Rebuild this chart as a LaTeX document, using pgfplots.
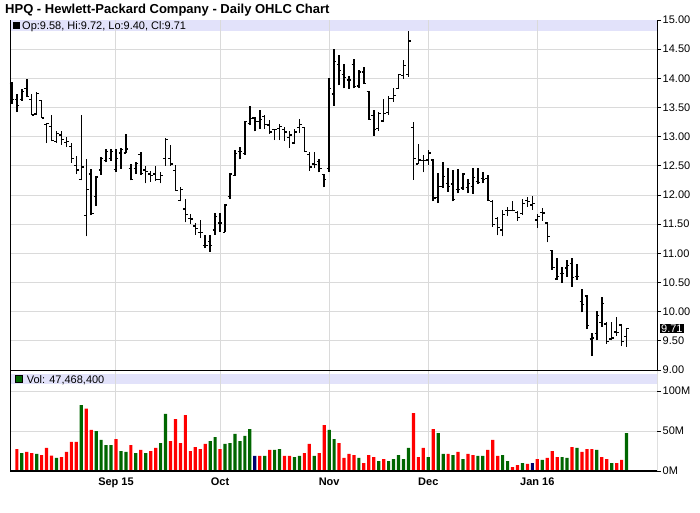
\documentclass[border=0pt]{standalone}
\usepackage{pgfplots}
\pgfplotsset{compat=1.18}
\usepackage{pgfplotstable}
\usepackage{fontspec}
\setmainfont{Liberation Sans}
\definecolor{band}{RGB}{226,226,250}
\definecolor{gridc}{RGB}{218,218,218}
\definecolor{vred}{RGB}{255,0,0}
\definecolor{vgreen}{RGB}{0,102,0}
\definecolor{vnavy}{RGB}{0,0,110}
\pgfdeclareplotmark{otick}{\pgfpathmoveto{\pgfpoint{-2.3pt}{0pt}}\pgfpathlineto{\pgfpoint{0pt}{0pt}}\pgfusepathqstroke}
\pgfdeclareplotmark{ctick}{\pgfpathmoveto{\pgfpoint{0pt}{0pt}}\pgfpathlineto{\pgfpoint{2.3pt}{0pt}}\pgfusepathqstroke}
\pgfplotstableread{
i O H L C
0 13.91 13.93 13.56 13.64
1 13.64 13.73 13.42 13.53
2 13.64 13.81 13.62 13.77
3 13.82 13.99 13.68 13.69
4 13.64 13.73 13.37 13.37
5 13.39 13.76 13.39 13.74
6 13.62 13.63 13.32 13.32
7 13.21 13.23 12.89 13.23
8 13.17 13.37 12.92 12.93
9 12.92 13.10 12.90 13.06
10 13.03 13.09 12.86 12.95
11 12.90 13.00 12.82 12.92
12 12.83 12.89 12.55 12.62
13 12.50 12.67 12.36 12.43
14 12.26 13.37 12.25 12.48
15 11.65 12.62 11.29 12.09
16 12.36 12.45 11.65 11.68
17 11.98 12.32 11.81 12.31
18 12.43 12.65 12.35 12.63
19 12.59 12.79 12.56 12.75
20 12.63 12.79 12.59 12.75
21 12.44 12.79 12.40 12.63
22 12.72 12.80 12.45 12.78
23 12.72 13.05 12.72 12.79
24 12.46 12.53 12.25 12.27
25 12.46 12.56 12.36 12.54
26 12.69 12.74 12.34 12.37
27 12.43 12.50 12.20 12.40
28 12.36 12.41 12.23 12.34
29 12.36 12.50 12.24 12.27
30 12.26 12.40 12.20 12.33
31 12.62 12.97 12.50 12.95
32 12.63 12.86 12.50 12.53
33 12.42 12.51 12.08 12.08
34 11.90 12.13 11.89 12.10
35 11.76 11.94 11.53 11.66
36 11.60 11.68 11.51 11.59
37 11.47 11.52 11.32 11.43
38 11.36 11.57 11.26 11.36
39 11.13 11.32 11.09 11.14
40 11.20 11.32 11.03 11.13
41 11.40 11.69 11.32 11.63
42 11.52 11.69 11.37 11.52
43 11.36 11.84 11.36 11.83
44 11.97 12.38 11.93 12.36
45 12.33 12.78 12.33 12.71
46 12.74 12.83 12.61 12.74
47 12.71 13.27 12.69 13.26
48 13.23 13.52 13.20 13.31
49 13.32 13.34 13.09 13.26
50 13.26 13.46 13.14 13.29
51 13.34 13.38 13.14 13.21
52 13.20 13.29 13.05 13.08
53 13.12 13.14 12.94 13.12
54 13.14 13.22 12.94 13.17
55 13.12 13.17 12.93 13.08
56 12.99 13.09 12.81 13.03
57 12.89 13.14 12.88 13.08
58 13.16 13.30 13.06 13.21
59 13.16 13.17 12.74 12.75
60 12.69 12.73 12.42 12.48
61 12.53 12.73 12.46 12.52
62 12.57 12.61 12.39 12.46
63 12.35 12.36 12.13 12.26
64 12.46 14.00 12.40 13.83
65 13.73 14.50 13.53 14.29
66 14.24 14.40 13.88 14.14
67 14.06 14.24 13.83 14.02
68 13.97 14.04 13.82 13.97
69 14.24 14.34 13.83 13.86
70 13.87 14.14 13.83 14.11
71 14.11 14.20 13.90 13.91
72 13.78 13.79 13.29 13.29
73 13.36 13.46 13.02 13.12
74 13.14 13.42 13.10 13.40
75 13.27 13.65 13.25 13.40
76 13.42 13.70 13.38 13.65
77 13.66 13.83 13.60 13.70
78 13.83 14.08 13.83 14.06
79 14.05 14.32 13.99 14.22
80 14.06 14.81 14.03 14.64
81 13.16 13.26 12.26 12.63
82 12.53 12.88 12.53 12.60
83 12.59 12.69 12.39 12.59
84 12.60 12.77 12.52 12.72
85 12.60 12.62 11.89 11.95
86 11.96 12.37 11.86 12.15
87 12.15 12.57 12.12 12.32
88 12.20 12.46 12.06 12.15
89 12.19 12.43 11.89 11.92
90 12.10 12.44 12.03 12.10
91 12.12 12.37 12.09 12.36
92 12.13 12.28 12.03 12.20
93 12.15 12.46 12.02 12.30
94 12.23 12.46 12.19 12.22
95 12.28 12.39 12.20 12.26
96 12.28 12.35 11.90 11.90
97 11.89 11.92 11.46 11.50
98 11.60 11.62 11.31 11.44
99 11.40 11.75 11.29 11.66
100 11.74 11.79 11.64 11.73
101 11.73 11.90 11.72 11.74
102 11.70 11.72 11.56 11.62
103 11.68 11.93 11.66 11.85
104 11.91 11.97 11.80 11.89
105 11.83 11.98 11.75 11.85
106 11.57 11.67 11.44 11.63
107 11.70 11.77 11.56 11.69
108 11.52 11.53 11.19 11.29
109 11.05 11.06 10.72 10.76
110 10.56 10.92 10.55 10.60
111 10.66 10.76 10.49 10.65
112 10.75 10.89 10.60 10.79
113 10.83 10.92 10.43 10.58
114 10.60 10.82 10.55 10.60
115 10.18 10.39 9.99 10.12
116 10.27 10.29 9.70 9.76
117 9.53 9.64 9.24 9.55
118 9.62 10.02 9.51 9.93
119 9.81 10.25 9.74 10.14
120 9.79 9.82 9.45 9.49
121 9.53 9.82 9.51 9.55
122 9.65 9.91 9.59 9.64
123 9.77 9.78 9.41 9.49
124 9.58 9.72 9.40 9.71
}\ohlc
\begin{document}
\begin{tikzpicture}
\useasboundingbox (0,0) rectangle (700pt,512pt);
% header bands
\fill[band] (10pt,481pt) rectangle (657pt,492pt);
\fill[band] (10pt,128pt) rectangle (657pt,138pt);
\begin{axis}[
  at={(10pt,142pt)}, anchor=south west,
  scale only axis, width=647pt, height=350pt,
  xmin=-0.383, xmax=130.14, ymin=9, ymax=15,
  clip=false,
  axis line style={draw=none},
  xtick={21,42,64,84,106}, xticklabels={},
  xtick style={draw=none},
  xmajorgrids, ymajorgrids,
  major grid style={gridc, line width=1pt},
  ytick={9.5,10,...,14.5},
  extra y ticks={9,15}, extra y tick style={grid=none},
  ytick pos=right, yticklabel pos=right,
  tick align=outside, major tick length=4pt,
  ytick style={black, line width=0.8pt},
  yticklabel style={font=\fontsize{11}{11}\selectfont, inner sep=1.5pt, /pgf/number format/.cd, fixed, fixed zerofill, precision=2, assume math mode=true},
]
\addplot[black, line width=1.5pt, -, quiver={u=0, v=\thisrow{H}-\thisrow{L}, every arrow/.append style={line width=1.5pt, black, -}}]
  table[x=i, y=L] {\ohlc};
\addplot[only marks, mark=otick, mark options={black, line width=1.2pt}] table[x=i, y=O] {\ohlc};
\addplot[only marks, mark=ctick, mark options={black, line width=1.2pt}] table[x=i, y=C] {\ohlc};
\draw[black, line width=1pt] (rel axis cs:0,0) -- (rel axis cs:0,1);
\draw[black, line width=1pt] (rel axis cs:1,0) -- (rel axis cs:1,1);
\node[fill=black, text=white, anchor=west, inner sep=1pt, font=\fontsize{11}{11}\selectfont, xshift=3pt] at (axis cs:130.14,9.71) {9.71};
\end{axis}
\begin{axis}[
  at={(10pt,41pt)}, anchor=south west,
  scale only axis, width=647pt, height=101pt,
  xmin=-0.383, xmax=130.14, ymin=0, ymax=126.25,
  axis line style={draw=none},
  xtick={21,42,64,84,106}, xticklabels={Sep 15,Oct,Nov,Dec,Jan 16},
  xtick style={draw=none},
  xticklabel style={font=\bfseries\fontsize{11}{11}\selectfont, anchor=base, yshift=-10pt},
  xmajorgrids, ymajorgrids,
  major grid style={gridc, line width=1pt},
  ytick={0,50,100}, yticklabels={0M,50M,100M},
  ytick pos=right, yticklabel pos=right,
  tick align=outside, major tick length=4pt,
  ytick style={black, line width=0.8pt},
  yticklabel style={font=\fontsize{11}{11}\selectfont, inner sep=1.5pt},
]
\addplot[ybar, bar width=3.2pt, bar shift=0pt, fill=vred, draw=none] coordinates {
(1,27.5)(3,23.8)(4,22.5)(6,20)(7,28.8)(8,19.2)(10,17.5)(11,23.8)(12,36.3)(13,36.3)(15,77.9)(16,51.3)(21,40)(24,32.5)(26,26.3)(28,25)(29,28.8)(32,37.5)(33,65)(34,35)(35,70)(36,25)(37,30)(38,27.5)(39,33.8)(42,27.5)(50,18.8)(52,26.3)(55,18.8)(56,18.8)(59,22.5)(60,33.8)(62,22.5)(63,57.5)(66,35)(67,16.3)(68,21.3)(69,20)(71,10)(72,20)(73,17.5)(75,15)(81,72.5)(82,17.5)(83,28.8)(85,52.5)(88,21.3)(90,23.8)(92,21.3)(93,20)(96,26.3)(97,38.8)(98,18.8)(101,5)(102,7.5)(104,8.8)(106,15)(108,16.3)(109,25)(110,17.5)(113,30)(115,23.8)(116,27.5)(117,27.5)(119,17.5)(120,15)(122,10)(123,13.8)};
\addplot[ybar, bar width=3.2pt, bar shift=0pt, fill=vgreen, draw=none] coordinates {
(2,22.5)(5,21.3)(9,16.3)(14,82.5)(17,50)(18,38.8)(19,32.5)(20,32.5)(22,25)(23,23.8)(25,22.5)(27,22.5)(30,35)(31,71.3)(40,37.5)(41,42.5)(43,33.8)(44,35)(45,46.3)(46,37.5)(47,43.8)(48,52.5)(51,18.8)(53,26.3)(54,27.5)(57,17.5)(58,18.8)(61,18.8)(64,51.3)(65,40)(70,16.3)(74,12.5)(76,12.5)(77,15)(78,20)(79,15)(80,28.8)(84,17.5)(86,47.5)(87,21.3)(89,20)(91,15)(94,18.8)(95,18.8)(99,20)(100,12.5)(103,10)(107,13.8)(111,17.5)(112,16.3)(114,28.8)(118,26.3)(121,10)(124,47.47)};
\addplot[ybar, bar width=3.2pt, bar shift=0pt, fill=vnavy, draw=none] coordinates {(49,18.8)(105,10)};
\draw[black, line width=1.3pt] (rel axis cs:0,0) -- (rel axis cs:1,0);
\draw[black, line width=1pt] (rel axis cs:0,0) -- (rel axis cs:0,1);
\draw[black, line width=1pt] (rel axis cs:1,0) -- (rel axis cs:1,1);
\draw[black, line width=2pt] (rel axis cs:0,1) -- (rel axis cs:1,1);
\end{axis}
% header texts
\node[anchor=base west, inner sep=0pt, font=\bfseries\fontsize{13}{13}\selectfont] at (5pt,498.7pt) {HPQ - Hewlett-Packard Company - Daily OHLC Chart};
\fill[black] (13pt,483pt) rectangle (19.5pt,489.7pt);
\node[anchor=base west, inner sep=0pt, font=\fontsize{11}{11}\selectfont] at (22pt,482.7pt) {Op:9.58, Hi:9.72, Lo:9.40, Cl:9.71};
\filldraw[fill=vgreen, draw=black, line width=0.6pt] (15pt,129.7pt) rectangle (22.5pt,136.3pt);
\node[anchor=base west, inner sep=0pt, font=\fontsize{11}{11}\selectfont] at (26.7pt,128.7pt) {Vol: 47,468,400};
\end{tikzpicture}
\end{document}
